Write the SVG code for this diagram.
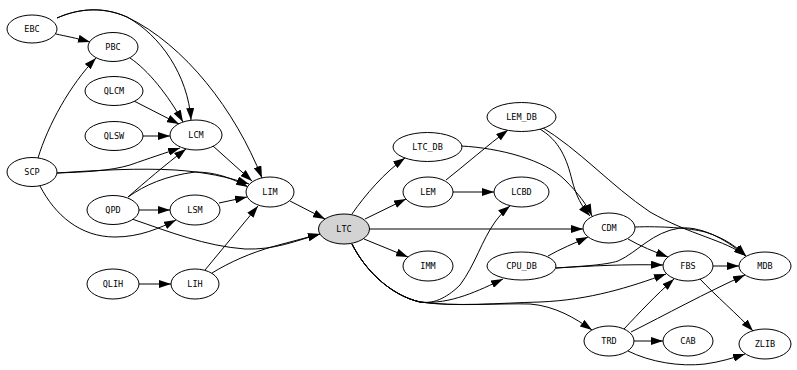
<svg xmlns="http://www.w3.org/2000/svg" width="797" height="370" viewBox="0 0 797 370">
<style>
.n ellipse{fill:#ffffff;stroke:#000000;stroke-width:1}
.n text{font-family:"DejaVu Sans Mono","Liberation Mono",monospace;font-size:8.5px;fill:#000000;text-anchor:middle;dominant-baseline:central}
#edges path{fill:none;stroke:#000000;stroke-width:1;marker-end:url(#ah)}
</style>
<defs>
<marker id="ah" markerUnits="userSpaceOnUse" markerWidth="12" markerHeight="8" refX="12" refY="4" orient="auto">
<path d="M0,0 L12,4 L0,8 z" fill="#000000"/>
</marker>
</defs>
<rect width="797" height="370" fill="#ffffff"/>
<g id="edges">
<path d="M56,34 C65,36 76,38 90,42"/>
<path d="M57,18 C75,10 100,5 127,17 C160,35 188,75 191,120"/>
<path d="M57,18 C75,10 100,5 127,17 C185,45 235,110 262,178"/>
<path d="M38,158 C48,125 70,85 96,58"/>
<path d="M130,58 C148,70 168,95 183,122"/>
<path d="M134,101 L179,124"/>
<path d="M143,136 L170,136"/>
<path d="M57,173 C85,172 110,171 130,165 C150,158 165,153 180,148"/>
<path d="M128,197 C145,182 165,165 186,149"/>
<path d="M57,173 C100,170 140,168 175,170 C205,172 228,177 249,184"/>
<path d="M128,197 C145,185 165,176 195,172 C215,172 232,178 248,187"/>
<path d="M40,186 C55,215 80,237 115,237 C140,237 160,228 176,220"/>
<path d="M139,210 L170,210"/>
<path d="M213,146 L252,181"/>
<path d="M219,203 L247,197"/>
<path d="M205,270 L258,206"/>
<path d="M139,284 L171,284"/>
<path d="M132,219 C170,232 205,246 245,249 C275,250 295,241 320,234"/>
<path d="M212,273 C230,262 250,253 275,246 C290,242 305,238 320,234"/>
<path d="M290,201 L325,219"/>
<path d="M352,214 C365,195 385,172 405,158"/>
<path d="M365,219 L406,199"/>
<path d="M364,239 L408,257"/>
<path d="M369,229 L583,229"/>
<path d="M352,244 C365,270 390,295 420,302 C435,305 450,295 460,285 C475,265 482,240 495,222 C500,215 505,210 510,206"/>
<path d="M352,244 C365,270 390,295 420,302 C450,305 480,290 503,279"/>
<path d="M352,244 C365,270 390,295 420,302 C455,307 500,303 540,302 C590,300 630,287 666,274"/>
<path d="M352,244 C365,270 390,295 420,302 C455,307 500,303 530,304 C555,306 575,318 592,330"/>
<path d="M446,180 C465,165 488,145 508,130"/>
<path d="M453,192 L494,192"/>
<path d="M461,146 C500,148 545,160 565,180 C578,193 587,205 592,216"/>
<path d="M538,128 C560,140 567,160 572,180 C576,196 582,207 590,216"/>
<path d="M540,126 C580,150 610,185 650,212 C690,235 725,240 746,256"/>
<path d="M635,227 C660,226 690,228 705,232 C725,238 738,248 746,256"/>
<path d="M548,256 C560,249 575,243 588,237"/>
<path d="M556,268 C590,266 625,264 663,265"/>
<path d="M556,268 C585,266 605,265 618,261 C638,252 652,232 680,228 C705,226 730,243 746,256"/>
<path d="M628,239 C640,246 655,252 668,257"/>
<path d="M713,266 L739,266"/>
<path d="M700,279 C715,295 738,315 753,331"/>
<path d="M624,329 C640,312 655,296 674,279"/>
<path d="M631,332 C665,315 705,293 745,275"/>
<path d="M634,341 L663,341"/>
<path d="M628,351 C650,362 680,367 705,364 C720,362 733,358 745,354"/>
</g>
<g id="EBC" class="n"><ellipse cx="32" cy="29" rx="25" ry="14"/><text x="32" y="29">EBC</text></g>
<g id="PBC" class="n"><ellipse cx="113" cy="47" rx="25" ry="14.5"/><text x="113" y="47">PBC</text></g>
<g id="QLCM" class="n"><ellipse cx="114" cy="91" rx="29" ry="14.5"/><text x="114" y="91">QLCM</text></g>
<g id="QLSW" class="n"><ellipse cx="114" cy="136" rx="29" ry="14.5"/><text x="114" y="136">QLSW</text></g>
<g id="LCM" class="n"><ellipse cx="196" cy="135" rx="26" ry="15"/><text x="196" y="135">LCM</text></g>
<g id="SCP" class="n"><ellipse cx="32" cy="172" rx="25" ry="14.5"/><text x="32" y="172">SCP</text></g>
<g id="QPD" class="n"><ellipse cx="113" cy="210" rx="26" ry="14.5"/><text x="113" y="210">QPD</text></g>
<g id="LSM" class="n"><ellipse cx="195" cy="210" rx="25" ry="15"/><text x="195" y="210">LSM</text></g>
<g id="LIM" class="n"><ellipse cx="270" cy="192" rx="24" ry="15"/><text x="270" y="192">LIM</text></g>
<g id="QLIH" class="n"><ellipse cx="113" cy="284" rx="26" ry="15"/><text x="113" y="284">QLIH</text></g>
<g id="LIH" class="n"><ellipse cx="195" cy="284" rx="24" ry="15"/><text x="195" y="284">LIH</text></g>
<g id="LTC" class="n"><ellipse cx="344" cy="229" rx="25.5" ry="15" style="fill:#d3d3d3"/><text x="344" y="229">LTC</text></g>
<g id="LTC_DB" class="n"><ellipse cx="427.5" cy="147" rx="34.5" ry="14.5"/><text x="427.5" y="147">LTC_DB</text></g>
<g id="LEM" class="n"><ellipse cx="428" cy="192" rx="25" ry="15"/><text x="428" y="192">LEM</text></g>
<g id="LEM_DB" class="n"><ellipse cx="521.5" cy="117" rx="34.5" ry="14.5"/><text x="521.5" y="117">LEM_DB</text></g>
<g id="LCBD" class="n"><ellipse cx="521.5" cy="192" rx="27.5" ry="15"/><text x="521.5" y="192">LCBD</text></g>
<g id="IMM" class="n"><ellipse cx="428" cy="266" rx="25" ry="15"/><text x="428" y="266">IMM</text></g>
<g id="CPU_DB" class="n"><ellipse cx="521.5" cy="266" rx="34.5" ry="14"/><text x="521.5" y="266">CPU_DB</text></g>
<g id="CDM" class="n"><ellipse cx="609" cy="228" rx="26" ry="15"/><text x="609" y="228">CDM</text></g>
<g id="FBS" class="n"><ellipse cx="688" cy="266" rx="25" ry="15"/><text x="688" y="266">FBS</text></g>
<g id="MDB" class="n"><ellipse cx="765" cy="266" rx="26" ry="14"/><text x="765" y="266">MDB</text></g>
<g id="TRD" class="n"><ellipse cx="609" cy="341" rx="25" ry="15"/><text x="609" y="341">TRD</text></g>
<g id="CAB" class="n"><ellipse cx="688" cy="341" rx="25" ry="15"/><text x="688" y="341">CAB</text></g>
<g id="ZLIB" class="n"><ellipse cx="765" cy="344" rx="26" ry="15"/><text x="765" y="344">ZLIB</text></g>
</svg>
